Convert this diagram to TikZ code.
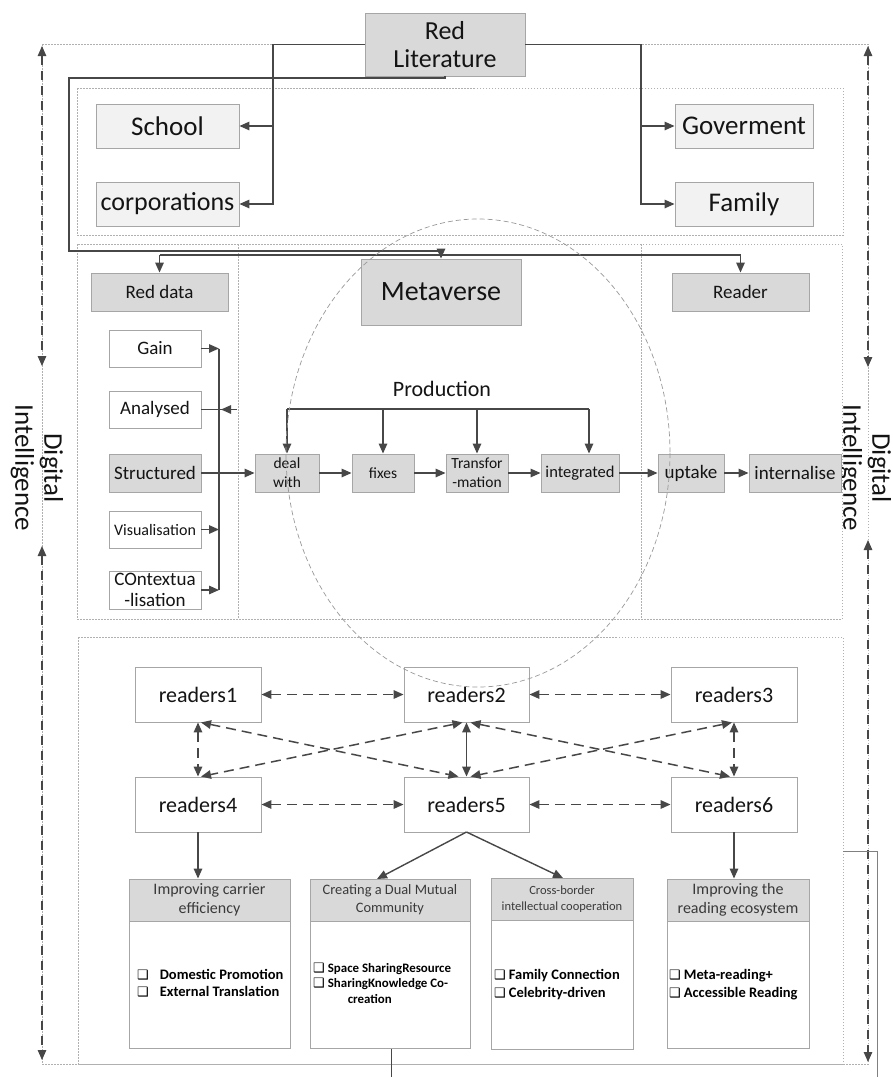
\documentclass[tikz,border=0pt]{standalone}
\usepackage{fontspec}
\setmainfont{Carlito}
\newfontfamily\symfont{DejaVu Sans}
\usetikzlibrary{arrows.meta}
\definecolor{boxfill}{HTML}{D9D9D9}
\definecolor{lightfill}{HTML}{F2F2F2}
\definecolor{boxline}{HTML}{A6A6A6}
\definecolor{conn}{HTML}{474747}
\definecolor{dotline}{HTML}{B0B0B0}
\definecolor{txt}{HTML}{141414}
\definecolor{hdrtxt}{HTML}{3A3A3A}
\tikzset{
 x=1pt,y=-1pt,
 fs/.style 2 args={font=\fontsize{#1}{#2}\selectfont},
 wh/.style 2 args={minimum width=#1, minimum height=#2},
 bx/.style={draw=boxline, line width=0.9pt, inner sep=0pt, align=center, text=txt},
 dk/.style={bx, fill=boxfill},
 lt/.style={bx, fill=lightfill},
 wt/.style={bx, fill=white},
 tip/.tip={Triangle[length=10pt,width=8.5pt]},
 ln/.style={draw=conn, line width=1.4pt},
 arr/.style={ln, -tip},
 darr/.style={draw=conn, line width=1.5pt, dash pattern=on 10pt off 6pt, tip-tip},
 sarr/.style={draw=conn, line width=1.5pt, tip-tip},
 outarr/.style={draw=conn, line width=1.2pt, dash pattern=on 9pt off 6pt, tip-tip},
 sect/.style={draw=dotline, line width=0.8pt, dash pattern=on 1.5pt off 1.5pt},
 item/.style={anchor=west, inner sep=0pt, text=black, align=left},
 bul/.style={font=\symfont\fontsize{13}{17}\selectfont},
}
\newcommand{\bulsq}{{\symfont\fontsize{13}{15}\selectfont ❑}}
\begin{document}
\begin{tikzpicture}
\useasboundingbox (0,0) rectangle (893,1077);
\fill[white] (0,0) rectangle (893,1077);

% dotted frames
\draw[sect] (42,44) rectangle (868,1064);
\draw[sect] (77,88) rectangle (843,235);
\draw[sect] (77,244) rectangle (842,619);
\draw[sect] (238,244) -- (238,619);
\draw[sect] (641,244) -- (641,619);
\draw[sect] (78,637) rectangle (843,1064);

% outer dashed arrows
\draw[outarr] (42,46) -- (42,366);
\draw[outarr] (42,546) -- (42,1060);
\draw[outarr] (868,46) -- (868,367);
\draw[outarr] (868,540) -- (868,1062);

\node[rotate=-90, fs={27}{29}, text=txt, align=center] (dil) at (37,468) {Digital\\Intelligence};
\node[rotate=-90, fs={27}{29}, text=txt, align=center] (dir) at (865,468) {Digital\\Intelligence};

% top part
\node[dk, wh={160}{63}, fs={26}{28}] (redlit) at (445,44.5) {Red\\Literature};
\node[lt, wh={143}{44}, fs={27}{30}] (school) at (167.5,126) {School};
\node[lt, wh={143}{44}, fs={26}{30}] (corp) at (167.5,204) {corporations};
\node[lt, wh={138}{44}, fs={27}{30}] (gov) at (744,126) {Goverment};
\node[lt, wh={138}{44}, fs={27}{30}] (family) at (744,204) {Family};

\coordinate (jl) at (273,44.5);
\coordinate (jr) at (641,44.5);
\draw[arr] (redlit.west) -- (jl) |- (school.east);
\draw[arr] (jl) |- (corp.east);
\draw[arr] (redlit.east) -- (jr) |- (gov.west);
\draw[arr] (jr) |- (family.west);

% middle part
\node[dk, wh={137}{38}, fs={19}{22}] (reddata) at (159.5,292) {Red data};
\node[dk, wh={160}{66}, fs={28}{30}] (metaverse) at (441,292) {Metaverse};
\node[dk, wh={137}{38}, fs={19}{22}] (reader) at (740.5,292) {Reader};

\coordinate (c0) at (445,78);
\coordinate (c1) at (69,251);
\draw[arr] (redlit.south) -- (c0) -| (c1) -| (metaverse.north);
\coordinate (c3) at (159.5,255);
\coordinate (c4) at (740.5,255);
\draw[arr] (c3) -- (reddata.north);
\draw[ln] (c3) -- (c4);
\draw[arr] (c4) -- (reader.north);

\node[wt, wh={92}{37}, fs={19}{22}] (gain) at (155,348.5) {Gain};
\node[wt, wh={92}{37}, fs={19}{22}] (analysed) at (155,409.5) {Analysed};
\node[dk, wh={92}{38}, fs={19}{22}] (structured) at (155,473) {Structured};
\node[wt, wh={92}{37}, fs={16}{20}] (visual) at (155,529.5) {Visualisation};
\node[wt, wh={92}{38}, fs={19}{21}] (context) at (155,590) {COntextua\\-lisation};

\coordinate (bt) at (219,348.5);
\coordinate (bb) at (219,590);
\coordinate (ba) at (237,409.5);
\draw[ln] (bt) -- (bb);
\draw[arr] (gain.east) -- (bt);
\draw[arr] (visual.east) -- (visual.east -| bt);
\draw[arr] (context.east) -- (bb);
\draw[ln] (analysed.east) -- (ba);
\draw[arr] (ba) -- ++(-16,0);

\node[dk, wh={64}{38}, fs={15.5}{19}] (deal) at (287,473) {deal\\with};
\node[dk, wh={62}{38}, fs={15.5}{19}] (fixes) at (383,473) {fixes};
\node[dk, wh={62}{38}, fs={15.5}{19}] (transf) at (477,473) {Transfor\\-mation};
\node[dk, wh={78}{38}, fs={16.5}{19}] (integ) at (580,473) {integrated};
\node[dk, wh={66}{38}, fs={19}{22}] (uptake) at (691,473) {uptake};
\node[dk, wh={92}{38}, fs={19}{22}] (intern) at (795,473) {internalise};

\draw[arr] (structured.east) -- (deal.west);
\draw[arr] (deal) -- (fixes);
\draw[arr] (fixes) -- (transf);
\draw[arr] (transf) -- (integ);
\draw[arr] (integ) -- (uptake);
\draw[arr] (uptake) -- (intern);

\node[fs={22}{24}, text=txt] (prod) at (442,389) {Production};
\coordinate (p1) at (287,409);
\coordinate (p2) at (383,409);
\coordinate (p3) at (477,409);
\coordinate (p4) at (589,409);
\draw[ln] (p1) -- (p4);
\draw[arr] (p1) -- (deal.north);
\draw[arr] (p2) -- (fixes.north);
\draw[arr] (p3) -- (transf.north);
\draw[arr] (p4) -- (p4 |- integ.north);

% readers
\node[wt, wh={126}{55}, fs={22}{24}] (r1) at (198,694.5) {readers1};
\node[wt, wh={125}{55}, fs={22}{24}] (r2) at (466.5,694.5) {readers2};
\node[wt, wh={126}{55}, fs={22}{24}] (r3) at (734,694.5) {readers3};
\node[wt, wh={126}{55}, fs={22}{24}] (r4) at (198,804.5) {readers4};
\node[wt, wh={125}{55}, fs={22}{24}] (r5) at (466.5,804.5) {readers5};
\node[wt, wh={126}{55}, fs={22}{24}] (r6) at (734,804.5) {readers6};

\draw[darr] (r1.east) -- (r2.west);
\draw[darr] (r2.east) -- (r3.west);
\draw[darr] (r4.east) -- (r5.west);
\draw[darr] (r5.east) -- (r6.west);
\draw[darr] (r1.south) -- (r4.north);
\draw[darr] (r3.south) -- (r6.north);
\draw[sarr] (r2.south) -- (r5.north);
\draw[darr] ([xshift=3]r1.south) -- ([xshift=-8]r5.north);
\draw[darr] ([xshift=-4]r2.south) -- ([xshift=3]r4.north);
\draw[darr] ([xshift=4]r2.south) -- ([xshift=-4]r6.north);
\draw[darr] ([xshift=-2]r3.south) -- ([xshift=4]r5.north);

% bottom boxes
\node[dk, wh={161}{42}, fs={16}{19}, text=hdrtxt] (h1) at (209.5,900) {Improving carrier\\efficiency};
\node[wt, wh={161}{127}, anchor=north] (b1) at (h1.south) {};
\node[dk, wh={160}{42}, fs={14.4}{18}, text=hdrtxt] (h2) at (390,900) {Creating a Dual Mutual\\Community};
\node[wt, wh={160}{127}, anchor=north] (b2) at (h2.south) {};
\node[dk, wh={142}{42}, fs={12.5}{16}, text=hdrtxt] (h3) at (562,899) {Cross-border\\intellectual cooperation};
\node[wt, wh={142}{129}, anchor=north] (b3) at (h3.south) {};
\node[dk, wh={142}{42}, fs={16}{19}, text=hdrtxt] (h4) at (738,900) {Improving the\\reading ecosystem};
\node[wt, wh={142}{127}, anchor=north] (b4) at (h4.south) {};

\draw[arr] (r4.south) -- (r4.south |- h1.north);
\coordinate (r5s) at (466.5,832);
\draw[arr] (r5s) -- (377,879);
\draw[arr] (r5s) -- (563,878);
\draw[arr] (r6.south) -- (r6.south |- h4.north);

\node[item, fs={14.5}{17.5}] (t1) at (137,984.5) {\begin{tabular}{@{}l@{\hspace{11pt}}l@{}}\bulsq & \textbf{Domestic Promotion}\\ \bulsq & \textbf{External Translation}\end{tabular}};
\node[item, fs={12.9}{15.5}] (t2) at (313,984.5) {\begin{tabular}{@{}l@{\hspace{3pt}}l@{}}\bulsq & \textbf{Space SharingResource}\\ \bulsq & \textbf{SharingKnowledge Co-}\\ & \hspace{20pt}\textbf{creation}\end{tabular}};
\node[item, fs={14.5}{18}] (t3) at (494,984.5) {\begin{tabular}{@{}l@{\hspace{3pt}}l@{}}\bulsq & \textbf{Family Connection}\\ \bulsq & \textbf{Celebrity-driven}\end{tabular}};
\node[item, fs={14.5}{18}] (t4) at (669,984.5) {\begin{tabular}{@{}l@{\hspace{3pt}}l@{}}\bulsq & \textbf{Meta-reading+}\\ \bulsq & \textbf{Accessible Reading}\end{tabular}};

% stray lines
\coordinate (sl) at (391,1077);
\draw[draw=conn, line width=0.8pt] (b2.south -| sl) -- (sl);
\coordinate (rl1) at (843,851);
\coordinate (rl2) at (877,1077);
\draw[draw=gray, line width=0.9pt] (rl1) -| (rl2);

% metaverse ellipse
\draw[gray!80, line width=0.7pt, dash pattern=on 5pt off 3pt] (478,453) ellipse [x radius=192, y radius=234];
\end{tikzpicture}
\end{document}
